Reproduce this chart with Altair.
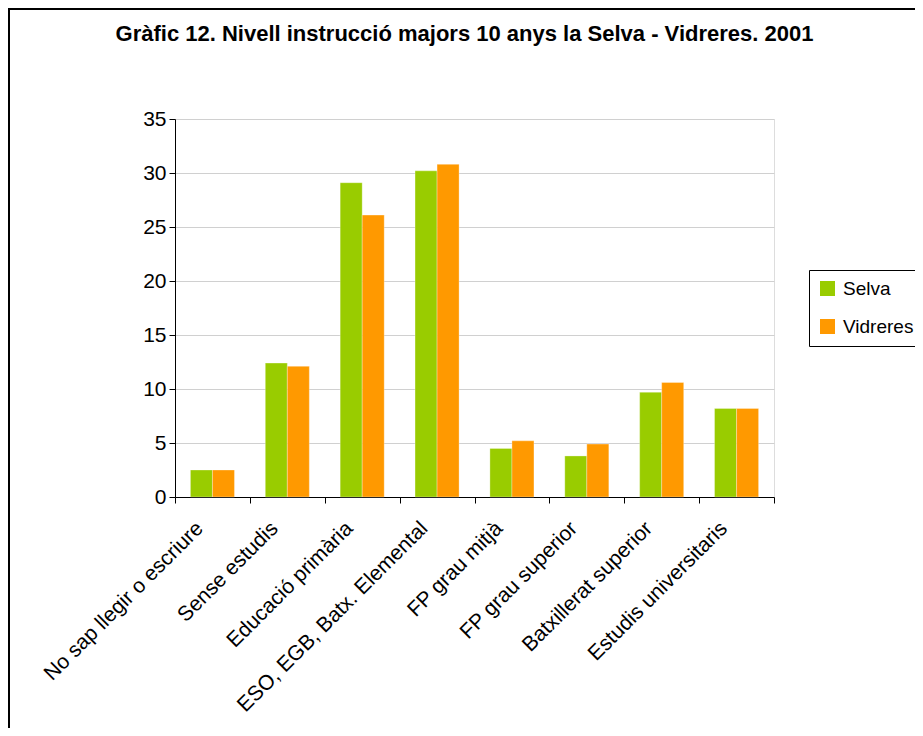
import altair as alt
import pandas as pd

categories = [
    "No sap llegir o escriure",
    "Sense estudis",
    "Educació primària",
    "ESO, EGB, Batx. Elemental",
    "FP grau mitjà",
    "FP grau superior",
    "Batxillerat superior",
    "Estudis universitaris",
]
series = ["Selva", "Vidreres"]
selva = [2.5, 12.4, 29.1, 30.2, 4.5, 3.8, 9.7, 8.2]
vidreres = [2.5, 12.1, 26.1, 30.8, 5.2, 4.9, 10.6, 8.2]
colors = ["#99CC00", "#FF9900"]
y_ticks = [0, 5, 10, 15, 20, 25, 30, 35]
title_text = "Gràfic 12. Nivell instrucció majors 10 anys la Selva - Vidreres. 2001"

rows = []
for c, s, v in zip(categories, selva, vidreres):
    rows.append({"cat": c, "serie": "Selva", "val": s})
    rows.append({"cat": c, "serie": "Vidreres", "val": v})
df = pd.DataFrame(rows)

FONT = "Liberation Sans"

bars = alt.Chart(df).mark_bar(stroke="#ffffff", strokeWidth=0.5, strokeOpacity=0.6).encode(
    x=alt.X(
        "cat:N",
        sort=categories,
        scale=alt.Scale(paddingInner=0, paddingOuter=0),
        axis=alt.Axis(
            title=None,
            labelAngle=-45,
            labelAlign="right",
            labelBaseline="middle",
            labelFontSize=21,
            labelFont=FONT,
            labelColor="black",
            labelPadding=22,
            labelOffset=-13,
            labelLimit=0,
            tickBand="extent",
            tickSize=6,
            tickColor="black",
            domainColor="black",
            grid=False,
        ),
    ),
    xOffset=alt.XOffset("serie:N", sort=series, scale=alt.Scale(paddingOuter=0.7, paddingInner=0)),
    y=alt.Y(
        "val:Q",
        scale=alt.Scale(domain=[0, 35], nice=False),
        axis=alt.Axis(
            title=None,
            values=y_ticks,
            labelFontSize=21,
            labelFont=FONT,
            labelColor="black",
            labelPadding=3,
            tickSize=6,
            tickColor="black",
            domainColor="black",
            grid=True,
            gridColor="#d0d0d0",
        ),
    ),
    color=alt.Color(
        "serie:N",
        sort=series,
        scale=alt.Scale(domain=series, range=colors),
        legend=alt.Legend(
            title=None,
            orient="none",
            legendX=634,
            legendY=151,
            strokeColor="black",
            fillColor="white",
            padding=9,
            symbolType="square",
            symbolSize=225,
            symbolStrokeWidth=0,
            labelFontSize=19,
            labelFont=FONT,
            labelColor="black",
            labelOffset=6,
            rowPadding=18,
        ),
    ),
)

border = alt.Chart(pd.DataFrame({"k": [0]})).mark_rect(
    fill=None, stroke="black", strokeWidth=2
).encode(
    x=alt.value(-166), x2=alt.value(900), y=alt.value(-110), y2=alt.value(700)
)

title = alt.Chart(pd.DataFrame({"t": [title_text]})).mark_text(
    font=FONT, fontSize=22, fontWeight="bold", color="black",
    align="center", baseline="alphabetic"
).encode(
    text="t:N", x=alt.value(289.5), y=alt.value(-78)
)

chart = alt.layer(border, bars, title).properties(
    width=599,
    height=378,
    autosize=alt.AutoSizeParams(type="none"),
    padding={"left": 167, "top": 111, "right": 141, "bottom": 231},
).configure_view(stroke="#888888", strokeWidth=1.5).configure(background="white")

chart.save("out.html", embed_options={"renderer": "svg", "actions": False})
